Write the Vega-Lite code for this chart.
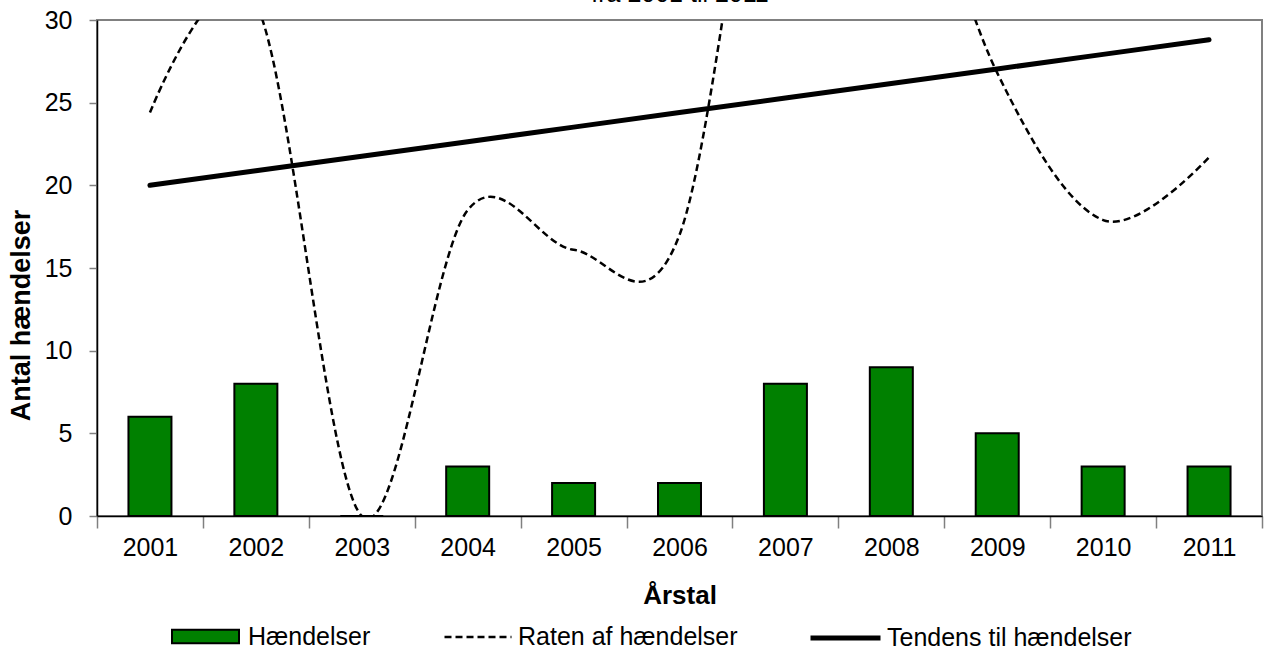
{
  "$schema": "https://vega.github.io/schema/vega-lite/v6.json",
  "width": 1165,
  "height": 496,
  "autosize": "none",
  "padding": {"left": 97, "top": 20, "right": 10, "bottom": 131},
  "background": "white",
  "config": {
    "view": {"stroke": "#808080", "strokeWidth": 2},
    "font": "Liberation Sans"
  },
  "data": {
    "values": [
      {"year": "2001", "events": 6, "rate": 24.4, "trend": 20.0},
      {"year": "2002", "events": 8, "rate": 31, "trend": 20.88},
      {"year": "2003", "events": 0, "rate": 0, "trend": 21.76},
      {"year": "2004", "events": 3, "rate": 18.5, "trend": 22.64},
      {"year": "2005", "events": 2, "rate": 16.1, "trend": 23.52},
      {"year": "2006", "events": 2, "rate": 17, "trend": 24.4},
      {"year": "2007", "events": 8, "rate": 50, "trend": 25.28},
      {"year": "2008", "events": 9, "rate": 44, "trend": 26.16},
      {"year": "2009", "events": 5, "rate": 26.8, "trend": 27.04},
      {"year": "2010", "events": 3, "rate": 17.9, "trend": 27.92},
      {"year": "2011", "events": 3, "rate": 21.7, "trend": 28.8}
    ]
  },
  "resolve": {"axis": {"x": "independent"}},
  "layer": [
    {
      "mark": {"type": "bar", "width": {"band": 0.406}, "stroke": "black", "strokeWidth": 2},
      "encoding": {
        "x": {
          "field": "year",
          "type": "ordinal",
          "scale": {"paddingInner": 0, "paddingOuter": 0},
          "axis": {
            "title": "Årstal",
            "titleFont": "Liberation Sans",
            "titleFontSize": 26,
            "titleFontWeight": "bold",
            "titleColor": "black",
            "titlePadding": 22,
            "labelFont": "Liberation Sans",
            "labelFontSize": 25,
            "labelColor": "black",
            "labelAngle": 0,
            "labelPadding": 7,
            "tickBand": "extent",
            "tickSize": 12,
            "tickColor": "#808080",
            "tickWidth": 1.5,
            "domainColor": "black",
            "domainWidth": 1.5,
            "grid": false
          }
        },
        "y": {
          "field": "events",
          "type": "quantitative",
          "scale": {"domain": [0, 30], "nice": false},
          "axis": {
            "title": "Antal hændelser",
            "titleFont": "Liberation Sans",
            "titleFontSize": 27,
            "titleFontWeight": "bold",
            "titleColor": "black",
            "titlePadding": 9,
            "titleY": 295,
            "labelFont": "Liberation Sans",
            "labelFontSize": 25,
            "labelColor": "black",
            "labelPadding": 17,
            "values": [0, 5, 10, 15, 20, 25, 30],
            "tickSize": 8,
            "tickColor": "#808080",
            "tickWidth": 1.5,
            "domainColor": "black",
            "domainWidth": 1.5,
            "grid": false
          }
        },
        "fill": {
          "datum": "Hændelser",
          "type": "nominal",
          "scale": {"range": ["#008000"]},
          "legend": {
            "title": null,
            "orient": "none",
            "legendX": 74,
            "legendY": 582,
            "padding": 0,
            "symbolType": "M-1,-0.2H1V0.2H-1Z",
            "symbolSize": 4489,
            "symbolStrokeColor": "black",
            "symbolStrokeWidth": 2,
            "symbolOpacity": 1,
            "labelFont": "Liberation Sans",
            "labelFontSize": 25,
            "labelColor": "black",
            "labelLimit": 0,
            "labelOffset": 8
          }
        }
      }
    },
    {
      "mark": {"type": "line", "interpolate": "cardinal", "stroke": "black", "strokeWidth": 2.5, "clip": true},
      "encoding": {
        "x": {"field": "year", "type": "ordinal", "axis": null},
        "y": {"field": "rate", "type": "quantitative"},
        "strokeDash": {
          "datum": "Raten af hændelser",
          "type": "nominal",
          "scale": {"range": [[7, 4]]},
          "legend": {
            "title": null,
            "orient": "none",
            "legendX": 346,
            "legendY": 582,
            "padding": 0,
            "symbolType": "stroke",
            "symbolSize": 4489,
            "symbolStrokeColor": "black",
            "symbolStrokeWidth": 2.5,
            "labelFont": "Liberation Sans",
            "labelFontSize": 25,
            "labelColor": "black",
            "labelLimit": 0,
            "labelOffset": 5
          }
        }
      }
    },
    {
      "mark": {"type": "line", "strokeWidth": 5, "strokeCap": "round"},
      "encoding": {
        "x": {
          "field": "year",
          "type": "ordinal",
          "axis": {
            "orient": "top",
            "labels": false,
            "ticks": false,
            "domain": false,
            "grid": false,
            "title": "fra 2001 til 2011",
            "titleFont": "Liberation Sans",
            "titleFontSize": 25,
            "titleFontWeight": "normal",
            "titleColor": "black",
            "titleBaseline": "alphabetic",
            "titleAlign": "center",
            "titleX": 582.5,
            "titleY": -19
          }
        },
        "y": {"field": "trend", "type": "quantitative"},
        "stroke": {
          "datum": "Tendens til hændelser",
          "type": "nominal",
          "scale": {"range": ["black"]},
          "legend": {
            "title": null,
            "orient": "none",
            "legendX": 711,
            "legendY": 580.5,
            "padding": 0,
            "symbolType": "stroke",
            "symbolSize": 4900,
            "symbolStrokeColor": "black",
            "symbolStrokeWidth": 5,
            "labelFont": "Liberation Sans",
            "labelFontSize": 25,
            "labelColor": "black",
            "labelLimit": 0,
            "labelOffset": 4
          }
        }
      }
    }
  ]
}
